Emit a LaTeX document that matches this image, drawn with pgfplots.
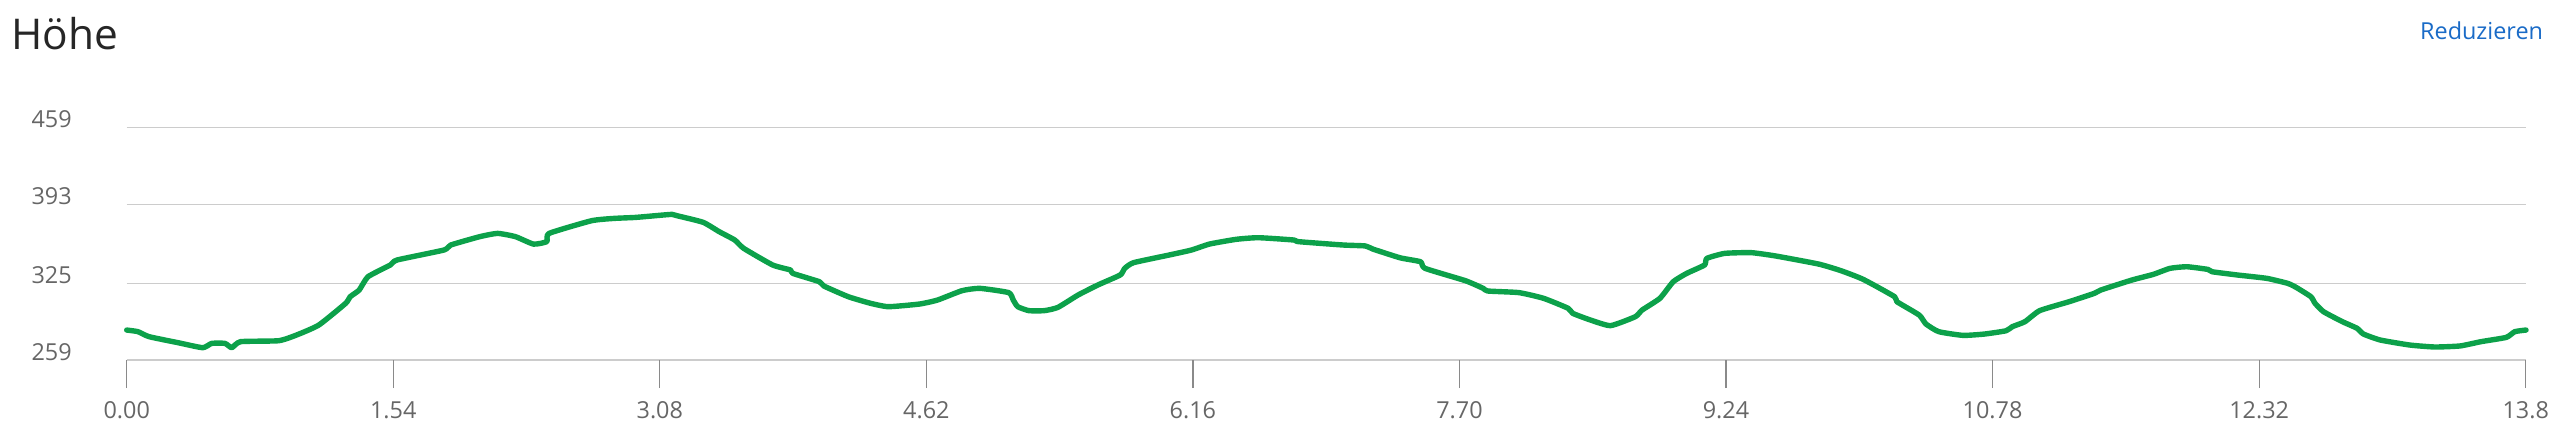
\documentclass[border=0pt]{standalone}
\usepackage{fontspec}
\setmainfont{Open Sans}
\usepackage{pgfplots}
\pgfplotsset{compat=1.18}

\definecolor{elev}{HTML}{0CA14A}
\definecolor{linkblue}{HTML}{1A6BC7}
\definecolor{labgray}{HTML}{666666}
\definecolor{gridgray}{HTML}{CCCCCC}
\definecolor{tickgray}{HTML}{8A8A8A}

\begin{document}
\begin{tikzpicture}
\path[use as bounding box] (0pt,0pt) rectangle (1280pt,223.5pt);
\node[anchor=base west, inner sep=0pt, text=black!85,
      font=\fontsize{21.2}{25}\selectfont] at (5.5pt,198.8pt) {Höhe};
\node[anchor=base east, inner sep=0pt, text=linkblue,
      font=\fontsize{11.7}{14}\selectfont] at (1271.7pt,203.8pt) {Reduzieren};

\begin{axis}[
    at={(63.35pt,43.5pt)}, anchor=south west,
    scale only axis,
    width=1199.5pt, height=116.15pt,
    xmin=0, xmax=13.86,
    ymin=259, ymax=459,
    axis line style={draw=none},
    xtick={0,1.54,3.08,4.62,6.16,7.70,9.24,10.78,12.32,13.86},
    xticklabels={0.00,1.54,3.08,4.62,6.16,7.70,9.24,10.78,12.32,13.8},
    ytick={259,325,393,459},
    yticklabels={259,325,393,459},
    xtick pos=lower,
    tick align=outside,
    major tick length=14pt,
    xtick style={draw=tickgray, line width=0.6pt},
    ytick style={draw=none},
    ymajorgrids,
    grid style={gridgray, line width=0.7pt},
    xticklabel style={anchor=base, inner sep=0pt, yshift=-15.2pt,
        text=labgray, font=\fontsize{11.7}{14}\selectfont},
    yticklabel style={anchor=base east, inner sep=0pt, xshift=-13.3pt,
        text=labgray, font=\fontsize{11.7}{14}\selectfont},
    /pgf/number format/assume math mode=true,
    clip=false,
]
\addplot[elev, line width=2.7pt, line join=round, line cap=round, smooth, tension=0.3] coordinates {
(0,284.8) (0.065,283.4) (0.129,279.1) (0.297,273.9) (0.439,269.6)
(0.491,273.3) (0.568,273.3) (0.607,269.6) (0.658,274.8) (0.878,275.6)
(0.981,280.5) (1.110,289.1) (1.265,307.8) (1.291,313.5) (1.343,319.2)
(1.394,330.7) (1.523,340.8) (1.562,345.1) (1.833,353.7) (1.872,358.0)
(2.040,365.2) (2.143,368.0) (2.246,365.2) (2.350,358.8) (2.427,360.9)
(2.440,368.0) (2.685,378.9) (2.814,380.9) (2.943,381.8) (3.150,384.4)
(3.189,382.9) (3.331,377.5) (3.423,369.5) (3.513,362.3) (3.565,355.1)
(3.732,340.8) (3.835,336.5) (3.848,333.6) (4.002,326.4) (4.028,322.7)
(4.169,313.5) (4.298,307.8) (4.401,304.9) (4.581,307.2) (4.684,310.6)
(4.826,318.7) (4.929,320.7) (5.096,317.0) (5.122,310.6) (5.148,304.9)
(5.212,301.5) (5.302,301.5) (5.380,304.3) (5.496,314.9) (5.611,323.6)
(5.740,332.2) (5.766,337.9) (5.817,342.8) (6.023,349.4) (6.152,353.7)
(6.255,358.8) (6.410,362.9) (6.538,364.3) (6.744,362.3) (6.770,360.9)
(7.028,358.0) (7.156,357.2) (7.200,354.5) (7.357,347.0) (7.475,343.6)
(7.501,337.9) (7.734,327.3) (7.837,320.7) (7.863,318.4) (8.044,317.0)
(8.186,312.1) (8.328,303.5) (8.354,299.2) (8.457,293.4) (8.573,288.6)
(8.716,296.3) (8.755,302.0) (8.858,312.1) (8.935,326.4) (9.013,333.6)
(9.116,340.8) (9.129,346.5) (9.232,350.8) (9.387,351.4) (9.529,348.5)
(9.775,341.6) (9.904,335.9) (10.033,328.4) (10.214,313.5) (10.227,309.2)
(10.356,297.7) (10.395,290.0) (10.469,283.4) (10.610,280.2) (10.736,281.4)
(10.858,284.2) (10.894,287.7) (10.967,292.0) (11.052,301.5) (11.222,309.2)
(11.368,316.4) (11.404,319.2) (11.586,327.9) (11.708,332.7) (11.805,337.9)
(11.902,339.3) (12.024,337.0) (12.048,335.0) (12.194,332.2) (12.364,329.3)
(12.485,325.0) (12.534,321.5) (12.619,313.5) (12.643,307.8) (12.692,300.6)
(12.801,292.0) (12.886,286.3) (12.922,281.4) (13.020,276.2) (13.190,271.9)
(13.335,270.2) (13.481,271.1) (13.602,274.8) (13.748,278.5) (13.797,283.4)
(13.862,284.8)
};
\end{axis}
\end{tikzpicture}
\end{document}
